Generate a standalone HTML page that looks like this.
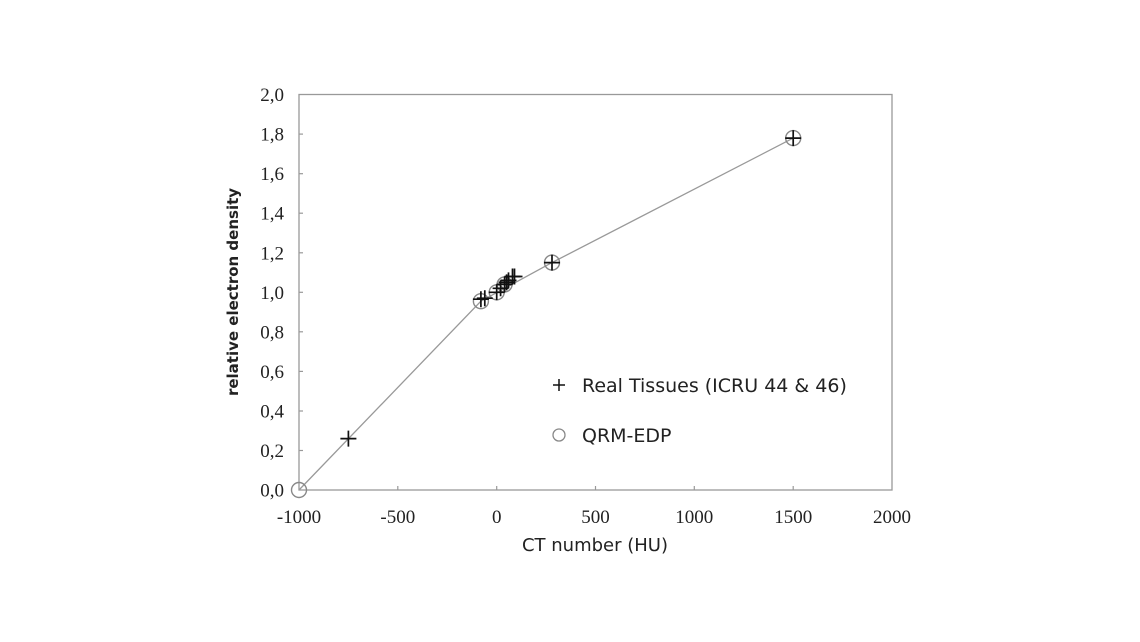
<!DOCTYPE html>
<html><head><meta charset="utf-8"><style>
body{margin:0;background:#fff;width:1140px;height:642px;overflow:hidden}
svg{display:block}
.t{font-family:"Liberation Serif",serif;font-size:19px;fill:#222}
.s{font-family:"DejaVu Sans","Liberation Sans",sans-serif;fill:#222}
</style></head><body>
<svg width="1140" height="642" viewBox="0 0 1140 642">
<rect x="299" y="94.5" width="593" height="395.5" fill="none" stroke="#999" stroke-width="1.3"/>
<g stroke="#999" stroke-width="1.2">
<line x1="299" y1="450.5" x2="303" y2="450.5"/><line x1="299" y1="411" x2="303" y2="411"/><line x1="299" y1="371.4" x2="303" y2="371.4"/><line x1="299" y1="331.8" x2="303" y2="331.8"/><line x1="299" y1="292.3" x2="303" y2="292.3"/><line x1="299" y1="252.8" x2="303" y2="252.8"/><line x1="299" y1="213.2" x2="303" y2="213.2"/><line x1="299" y1="173.7" x2="303" y2="173.7"/><line x1="299" y1="134.1" x2="303" y2="134.1"/>
<line x1="397.8" y1="490" x2="397.8" y2="486"/><line x1="496.7" y1="490" x2="496.7" y2="486"/><line x1="595.5" y1="490" x2="595.5" y2="486"/><line x1="694.3" y1="490" x2="694.3" y2="486"/><line x1="793.2" y1="490" x2="793.2" y2="486"/>
</g>
<g class="t" text-anchor="end">
<text x="284" y="496.5">0,0</text><text x="284" y="457">0,2</text><text x="284" y="417.5">0,4</text><text x="284" y="377.9">0,6</text><text x="284" y="338.3">0,8</text><text x="284" y="298.8">1,0</text><text x="284" y="259.3">1,2</text><text x="284" y="219.7">1,4</text><text x="284" y="180.2">1,6</text><text x="284" y="140.6">1,8</text><text x="284" y="101">2,0</text>
</g>
<g class="t" text-anchor="middle">
<text x="299" y="523">-1000</text><text x="397.8" y="523">-500</text><text x="496.7" y="523">0</text><text x="595.5" y="523">500</text><text x="694.3" y="523">1000</text><text x="793.2" y="523">1500</text><text x="892" y="523">2000</text>
</g>
<text class="s" x="595" y="551" text-anchor="middle" font-size="18">CT number (HU)</text>
<text class="s" x="0" y="0" font-size="15" font-weight="bold" text-anchor="middle" transform="translate(238,292) rotate(-90)">relative electron density</text>
<polyline points="299,490 480.9,301.2 552,262.6 793.2,138.1" fill="none" stroke="#999" stroke-width="1.3"/>
<g fill="none" stroke="#888" stroke-width="1.4">
<circle cx="299" cy="490" r="7.5"/><circle cx="480.9" cy="301.2" r="7.5"/><circle cx="496.7" cy="292.3" r="7.5"/><circle cx="504.6" cy="284.4" r="7.5"/><circle cx="552" cy="262.6" r="7.5"/><circle cx="793.2" cy="138.1" r="7.5"/>
</g>
<g stroke="#111" stroke-width="1.7">
<path d="M340.4 438.6h16M348.4 430.6v16"/>
<path d="M472.9 299.2h16M480.9 291.2v16"/>
<path d="M476.8 298.2h16M484.8 290.2v16"/>
<path d="M488.7 292.3h16M496.7 284.3v16"/>
<path d="M492.6 288.3h16M500.6 280.3v16"/>
<path d="M496.6 284.4h16M504.6 276.4v16"/>
<path d="M498.6 282.4h16M506.6 274.4v16"/>
<path d="M500.5 280.4h16M508.5 272.4v16"/>
<path d="M504.5 276.5h16M512.5 268.5v16"/>
<path d="M506.5 276.5h16M514.5 268.5v16"/>
<path d="M544 262.6h16M552 254.6v16"/>
<path d="M785.2 138.1h16M793.2 130.1v16"/>
</g>
<path d="M553 385h12M559 379v12" stroke="#111" stroke-width="1.5"/>
<circle cx="559" cy="435" r="6" fill="none" stroke="#888" stroke-width="1.3"/>
<text class="s" x="582" y="392" font-size="19">Real Tissues (ICRU 44 &amp; 46)</text>
<text class="s" x="582" y="442" font-size="19">QRM-EDP</text>
</svg>
</body></html>
